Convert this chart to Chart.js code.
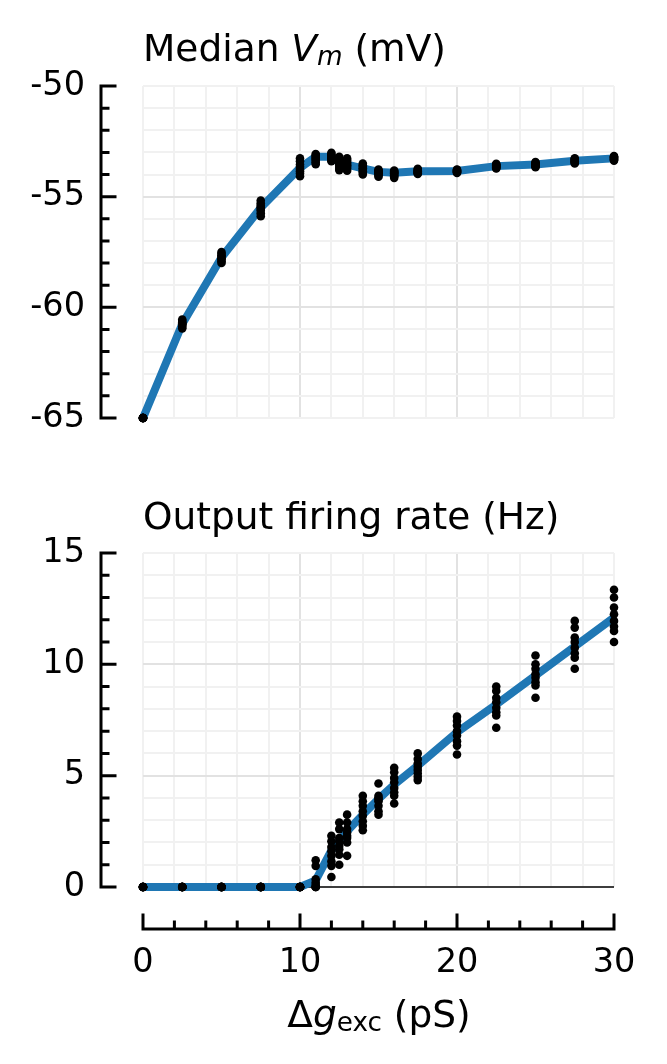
<!DOCTYPE html>
<html>
<head>
<meta charset="utf-8">
<script src="https://cdn.jsdelivr.net/npm/chart.js@4.4.1/dist/chart.umd.min.js"></script>
<style>
  body { margin: 0; background: #fff; }
  #wrap { position: relative; width: 667px; height: 1064px; font-family: 'DejaVu Sans', sans-serif; color: #000; }
  .panel { position: absolute; left: 0; width: 667px; }
  #top { top: 0; height: 470px; }
  #bottom { top: 470px; height: 594px; }
  .ttl { position: absolute; font-size: 37.5px; line-height: 37px; white-space: nowrap; }
  .sub { font-size: 70%; position: relative; top: 0.15em; }
</style>
</head>
<body>
<div id="wrap">
  <div class="panel" id="top"><canvas id="vmChart"></canvas></div>
  <div class="panel" id="bottom"><canvas id="rateChart"></canvas></div>
  <div class="ttl" style="left:143px; top:30px;">Median <i>V</i><i class="sub">m</i> (mV)</div>
  <div class="ttl" style="left:143px; top:498px;">Output firing rate (Hz)</div>
  <div class="ttl" style="left:379px; top:996px; transform:translateX(-50%);">&Delta;<i>g</i><span class="sub">exc</span> (pS)</div>
</div>

<script>
// excitatory conductance step (pS)
const dg = [0, 2.5, 5, 7.5, 10, 11, 12, 12.5, 13, 14, 15, 16, 17.5, 20, 22.5, 25, 27.5, 30];

// median membrane potential (mV), line + single trials
const vmMedian = [-65, -60.75, -57.75, -55.5, -53.7, -53.2, -53.2, -53.45, -53.55, -53.72, -53.88, -53.92, -53.85, -53.84, -53.62, -53.55, -53.38, -53.27];
const vmTrials = [
    [-65, -65, -65, -65, -65, -65, -65, -65],
    [-60.55, -60.62, -60.68, -60.72, -60.76, -60.8, -60.88, -60.95],
    [-57.5, -57.58, -57.65, -57.72, -57.78, -57.84, -57.92, -58.0],
    [-55.17, -55.3, -55.4, -55.48, -55.55, -55.63, -55.75, -55.88],
    [-53.27, -53.4, -53.55, -53.65, -53.75, -53.85, -53.95, -54.08],
    [-53.07, -53.13, -53.2, -53.25, -53.3, -53.38, -53.45, -53.53],
    [-53.02, -53.08, -53.14, -53.2, -53.25, -53.3, -53.35, -53.4],
    [-53.2, -53.3, -53.38, -53.45, -53.52, -53.6, -53.7, -53.8],
    [-53.27, -53.35, -53.45, -53.52, -53.58, -53.65, -53.74, -53.83],
    [-53.5, -53.58, -53.65, -53.72, -53.78, -53.85, -53.92, -54.0],
    [-53.77, -53.82, -53.86, -53.9, -53.94, -53.98, -54.04, -54.1],
    [-53.82, -53.86, -53.9, -53.94, -53.98, -54.03, -54.08, -54.15],
    [-53.74, -53.78, -53.82, -53.85, -53.88, -53.91, -53.94, -53.97],
    [-53.77, -53.8, -53.82, -53.84, -53.86, -53.88, -53.9, -53.93],
    [-53.52, -53.55, -53.58, -53.61, -53.64, -53.67, -53.7, -53.73],
    [-53.44, -53.47, -53.5, -53.53, -53.56, -53.6, -53.63, -53.67],
    [-53.27, -53.3, -53.33, -53.37, -53.4, -53.43, -53.46, -53.5],
    [-53.17, -53.2, -53.22, -53.25, -53.28, -53.31, -53.34, -53.37]
];

// output firing rate (Hz), line + single trials
const rateMedian = [0, 0, 0, 0, 0, 0.3, 1.65, 2.05, 2.5, 3.25, 3.95, 4.6, 5.45, 6.95, 8.2, 9.5, 10.8, 12.1];
const rateTrials = [
    [0, 0, 0, 0, 0, 0, 0, 0],
    [0, 0, 0, 0, 0, 0, 0, 0],
    [0, 0, 0, 0, 0, 0, 0, 0],
    [0, 0, 0, 0, 0, 0, 0, 0],
    [0, 0, 0, 0, 0, 0, 0, 0],
    [1.2, 0.95, 0.35, 0.2, 0.1, 0, 0, 0],
    [2.3, 2.05, 1.8, 1.6, 1.4, 1.15, 0.95, 0.45],
    [2.9, 2.6, 2.2, 2.05, 1.85, 1.7, 1.45, 1.0],
    [3.25, 2.9, 2.6, 2.45, 2.3, 2.2, 2.0, 1.4],
    [4.1, 3.85, 3.65, 3.4, 3.2, 2.95, 2.75, 2.55],
    [4.65, 4.1, 4.0, 3.95, 3.85, 3.65, 3.4, 3.25],
    [5.35, 5.15, 4.9, 4.7, 4.45, 4.25, 4.1, 3.75],
    [6.0, 5.75, 5.55, 5.4, 5.25, 5.1, 4.95, 4.8],
    [7.65, 7.45, 7.25, 7.0, 6.8, 6.55, 6.35, 5.95],
    [9.0, 8.8, 8.5, 8.3, 8.05, 7.85, 7.7, 7.15],
    [10.4, 10.0, 9.8, 9.55, 9.4, 9.2, 9.05, 8.5],
    [11.95, 11.65, 11.2, 11.0, 10.75, 10.5, 10.3, 9.8],
    [13.35, 13.0, 12.55, 12.25, 11.95, 11.7, 11.5, 11.0]
];

// labelled (major) ticks
const xTicks = [0, 10, 20, 30];
const vmTicks = [-65, -60, -55, -50];
const rateTicks = [0, 5, 10, 15];

Chart.defaults.font.family = "'DejaVu Sans', sans-serif";
Chart.defaults.font.size = 33.5;
Chart.defaults.color = '#000';

function toPoints(ys) {
    return dg.map((x, i) => ({ x: x, y: ys[i] }));
}
function toDots(trials) {
    let pts = [];
    dg.forEach((x, i) => trials[i].forEach(v => pts.push({ x: x, y: v })));
    return pts;
}

function gridColor(majors) {
    return function (c) {
        let s = c.scale, v = c.tick.value;
        if (v > s.min && v < s.max && majors.includes(v)) return '#e2e2e2';
        return '#f1f1f1';
    };
}

// offset spines with inward ticks, plus the zero line
const spines = {
    id: 'spines',
    beforeDatasetsDraw(chart, args, opts) {
        if (!opts.zeroLine) return;
        let ctx = chart.ctx, a = chart.chartArea;
        let y = chart.scales.y.getPixelForValue(0);
        ctx.save();
        ctx.strokeStyle = '#000';
        ctx.lineWidth = 1.5;
        ctx.beginPath();
        ctx.moveTo(a.left, y);
        ctx.lineTo(a.right, y);
        ctx.stroke();
        ctx.restore();
    },
    afterDraw(chart, args, opts) {
        let ctx = chart.ctx, a = chart.chartArea;
        let ys = chart.scales.y, xs = chart.scales.x;
        ctx.save();
        ctx.strokeStyle = '#000';
        ctx.lineWidth = 3;
        ctx.lineCap = 'square';
        ctx.beginPath();
        let sx = a.left - 42;
        ctx.moveTo(sx, ys.getPixelForValue(ys.min));
        ctx.lineTo(sx, ys.getPixelForValue(ys.max));
        ys.ticks.forEach(t => {
            let y = ys.getPixelForValue(t.value);
            ctx.moveTo(sx, y);
            ctx.lineTo(sx + (opts.yMajor.includes(t.value) ? 14 : 7), y);
        });
        if (opts.xAxis) {
            let sy = a.bottom + 42;
            ctx.moveTo(xs.getPixelForValue(xs.min), sy);
            ctx.lineTo(xs.getPixelForValue(xs.max), sy);
            xs.ticks.forEach(t => {
                let x = xs.getPixelForValue(t.value);
                ctx.moveTo(x, sy);
                ctx.lineTo(x, sy - (xTicks.includes(t.value) ? 14 : 7));
            });
        }
        ctx.stroke();
        ctx.restore();
    }
};

function makeChart(id, median, trials, yMin, yMax, yMajor, bottomAxis, pad) {
    return new Chart(document.getElementById(id), {
        type: 'scatter',
        data: {
            datasets: [{
                data: toDots(trials),
                backgroundColor: '#000',
                pointRadius: 4.3,
                pointBorderWidth: 0,
                clip: false,
                order: 0
            }, {
                data: toPoints(median),
                showLine: true,
                borderColor: '#1f77b4',
                borderWidth: 8,
                borderJoinStyle: 'round',
                pointRadius: 0,
                clip: false,
                order: 1
            }]
        },
        options: {
            responsive: true,
            maintainAspectRatio: false,
            animation: false,
            layout: { padding: pad },
            plugins: {
                legend: { display: false },
                tooltip: { enabled: false },
                spines: { yMajor: yMajor, xAxis: bottomAxis, zeroLine: bottomAxis }
            },
            scales: {
                x: {
                    min: 0, max: 30,
                    afterFit: s => {
                        s.height = bottomAxis ? 177 : 0;
                        s.paddingLeft = 0;
                        s.paddingRight = 0;
                    },
                    ticks: {
                        display: bottomAxis,
                        stepSize: 2,
                        autoSkip: false,
                        maxRotation: 0,
                        padding: 56,
                        callback: v => xTicks.includes(v) ? String(v) : ''
                    },
                    grid: { color: gridColor([10, 20]), lineWidth: 2, drawTicks: false },
                    border: { display: false }
                },
                y: {
                    min: yMin, max: yMax,
                    afterFit: s => {
                        s.width = 143;
                        s.paddingTop = 0;
                        s.paddingBottom = 0;
                    },
                    ticks: {
                        stepSize: 1,
                        autoSkip: false,
                        padding: 58,
                        callback: v => yMajor.includes(v) ? String(v) : ''
                    },
                    grid: { color: gridColor(yMajor), lineWidth: 2, drawTicks: false },
                    border: { display: false }
                }
            }
        },
        plugins: [spines]
    });
}

makeChart('vmChart', vmMedian, vmTrials, -65, -50, vmTicks, false,
    { left: 0, right: 53, top: 86, bottom: 52 });
makeChart('rateChart', rateMedian, rateTrials, 0, 15, rateTicks, true,
    { left: 0, right: 53, top: 83, bottom: 0 });
</script>
</body>
</html>
